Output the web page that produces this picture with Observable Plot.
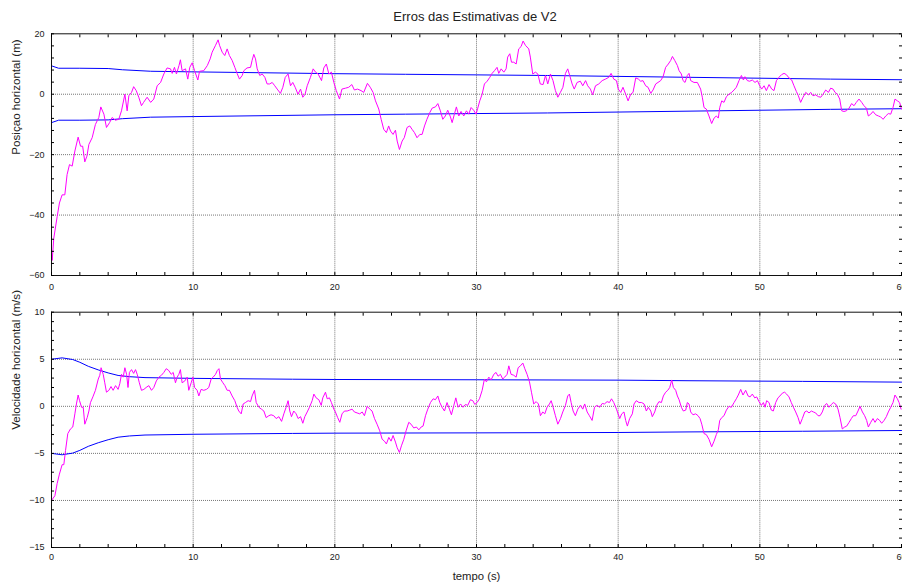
<!DOCTYPE html>
<html><head><meta charset="utf-8">
<script src="https://cdn.jsdelivr.net/npm/d3@7"></script>
<script src="https://cdn.jsdelivr.net/npm/@observablehq/plot@0.6"></script>
<style>
html,body{margin:0;padding:0;background:#fff;overflow:hidden;}
#chart{position:relative;width:902px;height:584px;overflow:hidden;font-family:"Liberation Sans",Arial,sans-serif;background:#fff;}
#chart svg{position:absolute;left:0;top:0;}
#title{position:absolute;left:0;width:950px;top:10px;line-height:1;text-align:center;font-size:13px;color:#222;}
</style></head><body>
<div id="chart"><div id="title">Erros das Estimativas de V2</div></div>
<script>
const titleText = "Erros das Estimativas de V2";
const xLabel = "tempo (s)";
const posLabel = "Posiçao horizontal (m)";
const velLabel = "Velocidade horizontal (m/s)";

const xDomain = [0, 60];
const xMajor = [0, 10, 20, 30, 40, 50, 60];
const posDomain = [-60, 20];
const posMajor = [-60, -40, -20, 0, 20];
const velDomain = [-15, 10];
const velMajor = [-15, -10, -5, 0, 5, 10];

// position error (m): [time s, error]
const posErr = [[0,-52],[0.05,-55],[0.16,-47.7],[0.4,-40.5],[0.56,-36],[0.75,-33.3],[0.94,-33.3],[1.1,-26.6],[1.27,-23.3],[1.46,-23.8],[1.65,-18.8],[1.88,-14.2],[2.05,-17.2],[2.2,-17.2],[2.35,-22.4],[2.5,-20.5],[2.64,-16.6],[2.87,-14.4],[3.1,-10],[3.34,-7.7],[3.48,-4.2],[3.7,-6.6],[3.88,-11],[4.1,-9.4],[4.28,-7.7],[4.5,-8.6],[4.75,-8.3],[4.94,-5.5],[5.18,0],[5.34,-5.5],[5.46,-0.5],[5.65,0.6],[5.8,2.5],[5.98,1.2],[6.16,-1],[6.35,-3.8],[6.5,-2.7],[6.75,-1],[7,-2.7],[7.22,-1.6],[7.46,2.8],[7.7,3.9],[7.93,6.7],[8.16,8.7],[8.4,8.4],[8.52,6.9],[8.68,8.9],[8.82,6.7],[9,9.5],[9.1,11.4],[9.22,7.8],[9.46,8.4],[9.62,5],[9.76,8.9],[9.93,10.4],[10.1,7.8],[10.33,4.7],[10.45,7.6],[10.75,7.8],[11,9.5],[11.2,11.7],[11.34,13.9],[11.58,16.2],[11.76,18],[11.86,16.2],[12.05,13.9],[12.23,12.8],[12.4,15],[12.56,12.8],[12.75,11.2],[12.94,8.9],[13.1,6.9],[13.27,5],[13.46,6.2],[13.58,7.8],[13.8,8.7],[14.05,8.9],[14.16,11.2],[14.28,13.2],[14.4,11.7],[14.52,8.4],[14.7,6.2],[14.87,6.7],[15.06,5.6],[15.22,3.4],[15.4,3.4],[15.58,3.9],[15.76,2.8],[15.93,1.7],[16.16,0.3],[16.33,2.3],[16.5,5.6],[16.7,6.7],[16.87,2.8],[17.03,3.9],[17.2,2.3],[17.4,0],[17.58,1.7],[17.74,-1],[17.9,0],[18.05,2.8],[18.28,5.6],[18.47,8.4],[18.64,7.3],[18.82,6.7],[19.06,4.5],[19.22,8.7],[19.4,10],[19.58,6.7],[19.76,7.3],[19.93,3.9],
[20.1,1.2],[20.33,-1.6],[20.5,1.7],[20.75,2],[20.98,2.3],[21.2,3.2],[21.38,1.4],[21.6,1.7],[21.85,1.2],[22.04,0.6],[22.3,3.6],[22.5,2.3],[22.7,0.6],[22.87,-2.2],[23.1,-4.9],[23.27,-8.3],[23.45,-11.6],[23.64,-12.7],[23.8,-10.5],[23.93,-12.2],[24.11,-13.3],[24.28,-11.9],[24.4,-15.5],[24.56,-18.3],[24.75,-15.5],[24.9,-14.4],[25.1,-11],[25.29,-10.5],[25.45,-11.6],[25.62,-12.7],[25.8,-14.4],[26,-13.3],[26.16,-13.3],[26.33,-10.5],[26.5,-8.3],[26.7,-6.1],[26.87,-4.6],[27.1,-4.2],[27.27,-3.1],[27.45,-5.5],[27.62,-8.3],[27.8,-7.2],[27.97,-5.3],[28.16,-7.5],[28.28,-9.4],[28.44,-6.6],[28.58,-4.2],[28.75,-7.2],[28.91,-5.7],[29.1,-7.2],[29.29,-5.5],[29.45,-6.6],[29.62,-4.4],[29.8,-5.3],[29.97,-6.6],[30.09,-4.6],[30.23,-2.2],[30.4,0],[30.56,3.4],[30.75,4.3],[30.94,5.6],[31.1,6.9],[31.27,7.8],[31.45,8.9],[31.57,6.9],[31.74,8.4],[31.93,7.3],[32.09,8.4],[32.2,12.3],[32.35,13.4],[32.47,10.6],[32.63,10.6],[32.8,10],[32.98,15],[33.15,15.8],[33.29,17.6],[33.45,16.2],[33.69,15],[33.8,12.3],[33.97,6.7],[34.16,7.3],[34.33,6.7],[34.5,3.4],[34.7,3.2],[34.87,6.2],[35.03,3.4],[35.22,6.7],[35.4,4.5],[35.57,1.2],[35.74,-1],[35.92,0.6],[36.1,2.3],[36.28,6.9],[36.44,8.4],[36.58,6.2],[36.75,3.4],[36.9,1.7],[37.1,3.9],[37.33,4.3],[37.5,2.8],[37.7,4.5],[37.85,2.8],[38.04,1.7],[38.2,-0.2],[38.4,2.8],[38.63,3.4],[38.87,4.5],[39.1,5],[39.34,5.6],[39.5,6.9],[39.69,5],[39.88,4.5],
[40.01,1.7],[40.18,0.6],[40.34,2.3],[40.53,0],[40.7,-2.2],[40.88,0],[41.05,0.6],[41.24,5.4],[41.43,5],[41.59,4.3],[41.75,4.5],[41.94,2.8],[42.11,2.3],[42.3,0.3],[42.46,1.4],[42.65,3.4],[42.81,3.9],[43,4.5],[43.17,5.8],[43.35,8.9],[43.54,10],[43.71,11.2],[43.83,12.5],[43.99,11.2],[44.18,9.5],[44.3,7.8],[44.46,6.7],[44.58,4.5],[44.72,3.9],[44.88,6.2],[45,6.9],[45.12,4.5],[45.35,3.9],[45.59,3.9],[45.82,1.7],[45.94,-1],[46.06,-4.4],[46.22,-4.9],[46.41,-7.2],[46.6,-9.7],[46.77,-7.9],[46.93,-7.2],[47.07,-7.9],[47.17,-4.4],[47.31,-2.2],[47.47,-2.7],[47.64,-0.8],[47.82,0],[48.01,0.6],[48.18,1.4],[48.34,2.3],[48.53,4.5],[48.7,6.2],[48.84,4.7],[48.95,5.8],[49.12,4.5],[49.28,4.3],[49.47,4.7],[49.66,3.9],[49.83,4.5],[49.99,2.8],[50.13,1.7],[50.3,2.8],[50.46,1.2],[50.65,3.2],[50.84,1.7],[51,1.2],[51.17,4.5],[51.35,5.6],[51.54,6.5],[51.71,6.9],[51.87,6.5],[52.06,5.4],[52.25,4.7],[52.41,2.8],[52.58,0.9],[52.72,-0.5],[52.88,-2.7],[53.05,-1],[53.24,0.6],[53.43,-0.2],[53.59,0.6],[53.75,-0.5],[53.94,-0.2],[54.13,-0.8],[54.3,-1],[54.46,0],[54.65,1.4],[54.84,0.6],[55,2],[55.17,1.7],[55.31,0.6],[55.47,0],[55.64,-1.6],[55.78,-5.5],[55.94,-5.7],[56.11,-5.5],[56.3,-4.6],[56.48,-3.1],[56.65,-3.8],[56.81,-2.7],[57,-1.6],[57.19,-2.7],[57.35,-3.8],[57.52,-4.6],[57.66,-7.2],[57.83,-6.6],[57.99,-5.7],[58.18,-6.8],[58.37,-7.2],[58.53,-7.5],[58.7,-8.3],[58.89,-7.2],[59.07,-6.4],[59.24,-6.6],[59.4,-4.4],[59.54,-1.6],[59.71,-2.2],[59.87,-2.7],[60,-4.9]];

// position error bound (m): [time s, bound]
const posBound = [[0,9.4],[0.5,8.6],[2,8.6],[4,8.5],[5,8.1],[7,7.6],[10,7.4],[15,7.1],[20,6.8],[25,6.6],[30,6.4],[35,6.2],[40,5.9],[45,5.6],[50,5.3],[55,5.0],[60,4.8]];

// velocity error (m/s): [time s, error]
const velErr = [[0,-10],[0.24,-9.5],[0.4,-8.2],[0.56,-7.2],[0.75,-6.2],[0.87,-6.2],[0.99,-4.7],[1.15,-2.9],[1.34,-2.4],[1.5,-2.2],[1.65,-0.8],[1.76,0.25],[1.88,1.2],[1.98,0.6],[2.12,-0.1],[2.24,-0.1],[2.35,-1.9],[2.52,-1.2],[2.64,-0.5],[2.75,0.4],[2.92,1],[3.1,1.7],[3.3,2.9],[3.41,3.3],[3.5,4.1],[3.65,3.4],[3.76,2.5],[3.88,1.5],[4.05,1.7],[4.2,2.1],[4.35,1.7],[4.52,2.2],[4.7,1.8],[4.82,2.4],[4.94,3.4],[5.06,3.1],[5.18,4.1],[5.3,3.4],[5.4,2],[5.5,3.6],[5.65,3.9],[5.8,3.5],[5.93,3.9],[6.05,3.4],[6.2,2.5],[6.35,1.7],[6.52,1.8],[6.68,2],[6.87,2.2],[7.06,1.7],[7.22,2],[7.4,2.7],[7.58,3.1],[7.76,3.3],[7.93,3.6],[8.1,4],[8.28,3.8],[8.45,3.4],[8.59,3.6],[8.75,2.5],[8.87,3.1],[8.99,3.4],[9.1,3.9],[9.22,2.5],[9.41,2.7],[9.58,3.1],[9.69,1.7],[9.86,2.5],[9.98,3.1],[10.1,2],[10.28,1.7],[10.4,1.1],[10.56,1.8],[10.75,1.7],[10.94,1.8],[11.1,2],[11.27,2.9],[11.41,3.1],[11.58,3.4],[11.7,3.8],[11.82,4],[11.93,2.9],[12.1,2.5],[12.24,2.2],[12.4,1.7],[12.56,1.7],[12.75,1.1],[12.94,0.6],[13.1,-0.1],[13.22,-0.5],[13.39,-0.8],[13.53,0.25],[13.69,0.4],[13.88,0.6],[14.05,0.5],[14.16,1.1],[14.33,1.7],[14.45,0.4],[14.64,-0.1],[14.82,-0.3],[14.99,-0.5],[15.15,-1.2],[15.34,-1],[15.5,-0.9],[15.69,-1],[15.86,-1.3],[16.05,-1.1],[16.24,-1.6],[16.4,-0.8],[16.56,-0.1],[16.7,0.6],[16.82,-0.5],[16.94,-1.1],[17.1,-0.5],[17.27,-0.8],[17.41,-1.3],[17.58,-1.1],[17.74,-1.8],[17.88,-1.1],[18.05,-0.6],[18.21,-0.1],[18.4,0.6],[18.52,1.3],[18.68,0.9],[18.87,0.7],[19.04,0.1],[19.15,0.9],[19.34,1.5],[19.46,0.8],[19.62,0.9],[19.76,0.4],[19.93,-0.3],
[20.04,-0.6],[20.2,-1.2],[20.35,-1.7],[20.51,-0.8],[20.68,-0.5],[20.87,-0.5],[21.05,-0.4],[21.22,-0.3],[21.38,-0.6],[21.57,-0.7],[21.76,-0.8],[21.93,-0.6],[22.09,-1],[22.28,0],[22.47,-0.3],[22.63,-0.5],[22.8,-1.3],[22.98,-1.9],[23.17,-2.6],[23.34,-3.5],[23.5,-3.7],[23.64,-4],[23.81,-3.3],[23.97,-3.7],[24.11,-3.1],[24.28,-3.8],[24.4,-4.4],[24.56,-4.9],[24.7,-4.2],[24.87,-3.5],[25.03,-2.6],[25.22,-1.7],[25.38,-1.9],[25.57,-2.3],[25.76,-2.2],[25.93,-2.5],[26.09,-2.2],[26.23,-2.1],[26.4,-1],[26.56,-0.3],[26.75,0.4],[26.94,0.8],[27.1,0.7],[27.27,1.1],[27.41,0.4],[27.57,-0.1],[27.74,-0.5],[27.92,0.4],[28.09,-0.3],[28.23,-0.9],[28.4,0.1],[28.54,0.9],[28.7,-0.1],[28.87,0.25],[29.05,-0.1],[29.22,0.2],[29.38,0.1],[29.57,0.7],[29.74,0.6],[29.88,0.2],[30.04,0.4],[30.21,0.8],[30.4,1.7],[30.56,2.9],[30.7,2.6],[30.87,3.1],[31.03,2.8],[31.22,3.4],[31.38,3.6],[31.52,3.2],[31.69,3.4],[31.85,2.9],[31.99,3.1],[32.16,3.4],[32.28,4.3],[32.44,3.4],[32.63,3.3],[32.8,3.1],[32.94,4.1],[33.1,4.3],[33.27,4.6],[33.41,4],[33.57,3.4],[33.74,2.6],[33.88,1.5],[34.04,0.25],[34.21,0.5],[34.37,0.25],[34.51,-1],[34.68,-0.6],[34.82,-0.8],[34.98,-0.1],[35.15,0.25],[35.27,0.6],[35.41,-0.1],[35.57,-1],[35.74,-1.9],[35.93,-1.3],[36.09,-0.6],[36.28,0.1],[36.44,1.1],[36.56,1.3],[36.68,0.4],[36.82,-0.5],[36.98,-1],[37.15,-0.3],[37.34,0.1],[37.5,-0.3],[37.64,0.25],[37.81,-0.6],[37.97,-1],[38.16,-1.5],[38.33,-0.1],[38.51,0.1],[38.7,-0.1],[38.87,0.3],[39.03,0.25],[39.22,0.5],[39.38,0.4],[39.53,0.8],[39.69,0.4],[39.88,-0.3],
[40.11,-1.3],[40.25,-0.8],[40.41,-0.6],[40.53,-1.5],[40.65,-2.1],[40.81,-1.3],[41,-0.8],[41.12,0.25],[41.28,0.6],[41.47,0.4],[41.66,0.4],[41.83,0.25],[41.99,-0.5],[42.13,-0.1],[42.3,-0.5],[42.41,-1.1],[42.58,-0.6],[42.72,0.1],[42.88,0.5],[43.05,0.4],[43.19,1.1],[43.35,1.5],[43.5,1.7],[43.64,2],[43.78,2.8],[43.9,2],[44.06,1.7],[44.18,1.1],[44.3,0.7],[44.46,-0.1],[44.6,-0.5],[44.77,-0.4],[44.88,0.4],[45,0.25],[45.12,-0.6],[45.28,-0.9],[45.47,-0.8],[45.64,-1],[45.78,-1.3],[45.9,-1.9],[46.06,-2.9],[46.22,-3],[46.41,-3.5],[46.6,-4.3],[46.77,-3.7],[46.93,-3],[47.07,-2.5],[47.17,-1.5],[47.31,-1.2],[47.47,-1],[47.64,-0.4],[47.82,0],[47.99,-0.1],[48.18,0.4],[48.34,0.8],[48.48,1.2],[48.65,1.8],[48.81,1.2],[49,1.7],[49.17,1.1],[49.31,1],[49.47,1.3],[49.64,0.9],[49.78,1],[49.94,0.5],[50.11,0.1],[50.25,0.4],[50.37,-0.1],[50.48,0.6],[50.65,0.4],[50.81,-0.4],[50.95,-0.5],[51.12,0.4],[51.28,0.9],[51.42,1.1],[51.59,1.4],[51.75,1.5],[51.89,1.3],[52.06,1],[52.22,0.4],[52.37,-0.1],[52.53,-0.6],[52.7,-1.2],[52.84,-1.9],[53,-1.3],[53.17,-0.6],[53.31,-0.5],[53.47,-0.7],[53.64,-0.5],[53.78,-0.6],[53.94,-0.7],[54.11,-1],[54.25,-1],[54.41,-0.6],[54.58,0.1],[54.72,0.3],[54.88,-0.1],[55.05,0.2],[55.19,0.4],[55.35,0.25],[55.52,-0.3],[55.66,-1.2],[55.82,-2.4],[55.99,-2.2],[56.13,-2.1],[56.3,-1.7],[56.46,-1.3],[56.6,-1],[56.77,-1],[56.93,-0.5],[57.07,0],[57.24,-0.6],[57.4,-1],[57.54,-1.5],[57.66,-2.2],[57.83,-1.7],[57.99,-1.3],[58.13,-1.7],[58.3,-1.3],[58.46,-1.5],[58.6,-1.8],[58.77,-1.5],[58.93,-1.1],[59.07,-0.6],[59.24,-0.1],[59.4,0.4],[59.54,1.2],[59.71,0.8],[59.83,0.4],[59.97,-0.3]];

// velocity error bound (m/s): [time s, bound]
const velBound = [[0,5.0],[0.75,5.15],[1.5,4.97],[2,4.68],[2.6,4.25],[3.3,3.87],[4,3.55],[4.7,3.28],[5.5,3.15],[6.6,3.05],[10,2.97],[17,2.88],[20,2.85],[30,2.82],[40,2.78],[45,2.72],[53,2.65],[60,2.57]];

const FONT = "Liberation Sans, Arial, sans-serif";
const GRID = {stroke: "#777", strokeOpacity: 1, strokeDasharray: "1,1"};
const xMinor = d3.range(xDomain[0], xDomain[1] + 1, 2);

function panel({series, bound, yDomain, yMajor, yStep, yLabel, marginTop, marginBottom, xPad, withXLabel}) {
  const yMinor = d3.range(yDomain[0], yDomain[1] + 0.001, yStep);
  const inner = (arr, dom) => arr.filter(v => v > dom[0] && v < dom[1]);
  const marks = [
    Plot.gridX(inner(xMajor, xDomain), GRID),
    Plot.gridY(inner(yMajor, yDomain), GRID),
    Plot.line(bound, {x: d => d[0], y: d => d[1], stroke: "#0000ff", strokeWidth: 1}),
    Plot.line(bound, {x: d => d[0], y: d => -d[1], stroke: "#0000ff", strokeWidth: 1}),
    Plot.line(series, {x: d => d[0], y: d => d[1], stroke: "#ff00ff", strokeWidth: 1}),
    Plot.ruleX([xDomain[0]], {stroke: "#111"}),
    Plot.ruleY([yDomain[0]], {stroke: "#111"}),
    Plot.ruleY([yDomain[1]], {stroke: "#111"}),
    Plot.axisX(xMinor, {anchor: "bottom", tickSize: -3, tickFormat: () => "", label: null}),
    Plot.axisX(xMinor, {anchor: "top", tickSize: -3, tickFormat: () => "", label: null}),
    Plot.axisX(xMajor, {anchor: "bottom", tickSize: 0, tickPadding: xPad, fontSize: 9, fill: "#222", label: null}),
    Plot.axisY(yMinor, {anchor: "left", tickSize: -3, tickFormat: () => "", label: null}),
    Plot.axisY(yMinor, {anchor: "right", tickSize: -3, tickFormat: () => "", label: null}),
    Plot.axisY(yMajor, {anchor: "left", tickSize: 0, tickPadding: 7, fontSize: 9, fill: "#222", label: null}),
    Plot.text([yLabel], {frameAnchor: "left", text: d => d, rotate: -90, dx: -35, fontSize: 11.6, fill: "#222", lineAnchor: "middle"})
  ];
  if (withXLabel) marks.push(Plot.text([xLabel], {frameAnchor: "bottom", text: d => d, dy: 28.5, fontSize: 11.3, fill: "#222", lineAnchor: "middle"}));
  return Plot.plot({
    width: 902, height: 584,
    marginLeft: 51, marginRight: 1, marginTop, marginBottom,
    style: {background: "transparent", fontFamily: FONT, overflow: "visible"},
    x: {domain: xDomain, axis: null},
    y: {domain: yDomain, axis: null},
    marks
  });
}

const chart = document.getElementById("chart");
document.getElementById("title").textContent = titleText;
chart.append(panel({series: posErr, bound: posBound, yDomain: posDomain, yMajor: posMajor, yStep: 4, yLabel: posLabel, marginTop: 33.3, marginBottom: 309, xPad: 8, withXLabel: false}));
chart.append(panel({series: velErr, bound: velBound, yDomain: velDomain, yMajor: velMajor, yStep: 1, yLabel: velLabel, marginTop: 311.7, marginBottom: 37, xPad: 6, withXLabel: true}));
</script>
</body></html>
